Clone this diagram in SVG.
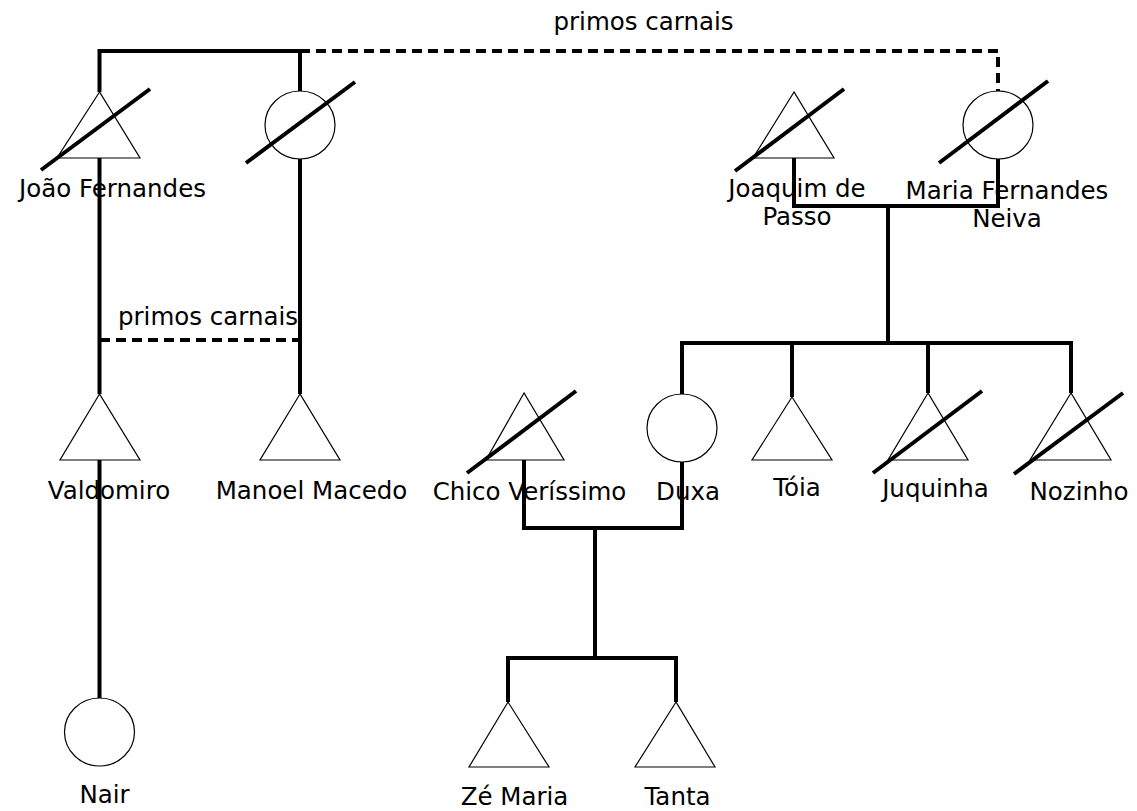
<svg xmlns="http://www.w3.org/2000/svg" width="1137" height="811" viewBox="0 0 1137 811">
<style>
.bg{fill:#fff}
.shape{fill:#fff;stroke:#000;stroke-width:1.2}
.slash{stroke:#000;stroke-width:4;fill:none}
.line{stroke:#000;stroke-width:4;fill:none}
.dash{stroke:#000;stroke-width:4;fill:none;stroke-dasharray:10 6}
text{font-family:"DejaVu Sans","Verdana",sans-serif;font-size:24.5px;fill:#000;text-anchor:middle}
</style>
<rect class="bg" x="0" y="0" width="1137" height="811"/>
<g id="labels-relations">
<text x="643.5" y="30">primos carnais</text>
<text x="208" y="325">primos carnais</text>
</g>
<g id="joao-fernandes">
<polygon class="shape" points="99.5,92 57,158 140,158"/>
<line class="slash" x1="41" y1="170" x2="150" y2="89"/>
<text x="112.5" y="197">João Fernandes</text>
</g>
<g id="wife-joao">
<ellipse class="shape" cx="300" cy="125" rx="35" ry="34"/>
<line class="slash" x1="246" y1="163" x2="355" y2="82"/>
</g>
<g id="joaquim-de-passo">
<polygon class="shape" points="794,92 753,158 834,158"/>
<line class="slash" x1="735" y1="171" x2="844" y2="89"/>
<text x="797" y="197">Joaquim de</text>
<text x="797" y="225">Passo</text>
</g>
<g id="maria-fernandes-neiva">
<ellipse class="shape" cx="998" cy="125" rx="35" ry="34"/>
<line class="slash" x1="939" y1="163" x2="1048" y2="81"/>
<text x="1007" y="199">Maria Fernandes</text>
<text x="1007" y="227">Neiva</text>
</g>
<g id="valdomiro">
<polygon class="shape" points="99.5,394 60,460 140,460"/>
<text x="109" y="499">Valdomiro</text>
</g>
<g id="manoel-macedo">
<polygon class="shape" points="300,394 260,460 340,460"/>
<text x="311.5" y="499">Manoel Macedo</text>
</g>
<g id="nair">
<ellipse class="shape" cx="99.5" cy="732" rx="35" ry="34"/>
<text x="104.5" y="803">Nair</text>
</g>
<g id="chico-verissimo">
<polygon class="shape" points="524,393 486,460 564,460"/>
<line class="slash" x1="467" y1="473" x2="576" y2="391"/>
<text x="529.5" y="500">Chico Veríssimo</text>
</g>
<g id="duxa">
<ellipse class="shape" cx="682" cy="428" rx="35" ry="34"/>
<text x="688" y="500">Duxa</text>
</g>
<g id="toia">
<polygon class="shape" points="792,397 752,460 832,460"/>
<text x="797" y="496">Tóia</text>
</g>
<g id="juquinha">
<polygon class="shape" points="928,393 888,460 968,460"/>
<line class="slash" x1="873" y1="473" x2="982" y2="391"/>
<text x="935.5" y="497">Juquinha</text>
</g>
<g id="nozinho">
<polygon class="shape" points="1071,393 1030,460 1111,460"/>
<line class="slash" x1="1014" y1="474" x2="1123" y2="393"/>
<text x="1079" y="500">Nozinho</text>
</g>
<g id="ze-maria">
<polygon class="shape" points="508,702 469,767 549,767"/>
<text x="514.5" y="805">Zé Maria</text>
</g>
<g id="tanta">
<polygon class="shape" points="676,702 635,767 715,767"/>
<text x="677.5" y="805">Tanta</text>
</g>
<g id="connectors">
<polyline class="line" points="99.5,92 99.5,51 300,51 300,91"/>
<polyline class="dash" points="300,51 998,51 998,91"/>
<line class="line" x1="99.5" y1="158" x2="99.5" y2="394"/>
<line class="line" x1="300" y1="159" x2="300" y2="394"/>
<line class="dash" x1="100" y1="340" x2="300" y2="340"/>
<line class="line" x1="99.5" y1="460" x2="99.5" y2="698"/>
<polyline class="line" points="794,158 794,206 998,206 998,159"/>
<line class="line" x1="888" y1="206" x2="888" y2="343"/>
<polyline class="line" points="682,394 682,343 1071,343 1071,393"/>
<line class="line" x1="792" y1="343" x2="792" y2="397"/>
<line class="line" x1="928" y1="343" x2="928" y2="393"/>
<polyline class="line" points="524,460 524,528 682,528 682,462"/>
<line class="line" x1="595" y1="528" x2="595" y2="658"/>
<polyline class="line" points="508,702 508,658 676,658 676,702"/>
</g>
</svg>
